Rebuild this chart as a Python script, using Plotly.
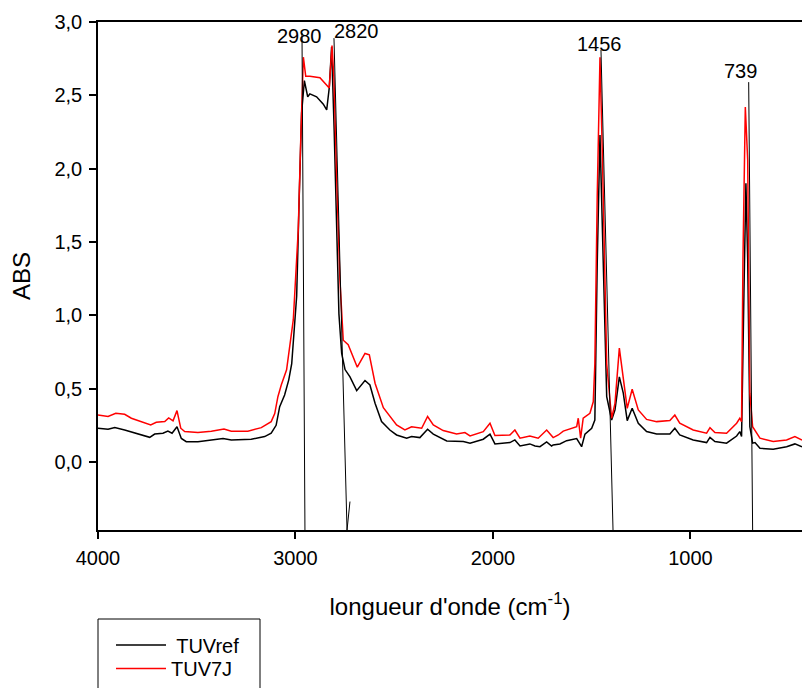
import plotly.graph_objects as go

# Wavenumbers (cm-1) and absorbance
ref_wn = [4000, 3949, 3915, 3865, 3738, 3713, 3671, 3646, 3625, 3600, 3578, 3553, 3494, 3367, 3325,
          3224, 3156, 3123, 3098, 3080, 3055, 3034, 3019, 2994, 2981, 2969, 2955, 2938, 2927, 2893,
          2859, 2842, 2829, 2817, 2804, 2791, 2780, 2766, 2749, 2724, 2690, 2648, 2623, 2597, 2564,
          2522, 2488, 2437, 2412, 2370, 2331, 2302, 2234, 2150, 2116, 2049, 2015, 1990, 1914, 1889,
          1863, 1813, 1787, 1762, 1728, 1703, 1695, 1661, 1627, 1576, 1551, 1534, 1500, 1484, 1472,
          1458, 1445, 1424, 1399, 1382, 1360, 1340, 1320, 1295, 1264, 1222, 1171, 1104, 1079, 1054,
          986, 918, 901, 876, 817, 766, 750, 741, 729, 719, 710, 699, 685, 673, 648, 581, 513, 471, 435]
ref_abs = [0.23, 0.223, 0.234, 0.218, 0.168, 0.19, 0.196, 0.21, 0.196, 0.24, 0.16, 0.138, 0.138, 0.16, 0.15,
           0.155, 0.173, 0.196, 0.25, 0.377, 0.457, 0.56, 0.67, 1.13, 1.81, 2.38, 2.60, 2.49, 2.51, 2.49,
           2.44, 2.40, 2.55, 2.83, 2.26, 1.58, 1.01, 0.74, 0.63, 0.58, 0.486, 0.555, 0.525, 0.40, 0.275,
           0.218, 0.184, 0.162, 0.173, 0.166, 0.223, 0.19, 0.143, 0.139, 0.128, 0.155, 0.19, 0.123, 0.132, 0.15,
           0.109, 0.123, 0.109, 0.104, 0.136, 0.109, 0.116, 0.123, 0.145, 0.16, 0.104, 0.19, 0.23, 0.286, 1.355,
           2.23, 1.58, 0.445, 0.286, 0.355, 0.58, 0.469, 0.282, 0.366, 0.264, 0.207, 0.19, 0.19, 0.23, 0.184,
           0.15, 0.132, 0.168, 0.139, 0.128, 0.177, 0.207, 0.173, 1.15, 1.90, 1.38, 0.24, 0.128, 0.132, 0.093, 0.087, 0.104, 0.123, 0.104]

j7_wn = [4000, 3949, 3910, 3865, 3831, 3781, 3733, 3705, 3662, 3642, 3620, 3600, 3581, 3561, 3494,
         3426, 3362, 3325, 3241, 3173, 3123, 3105, 3089, 3072, 3045, 3011, 2986, 2972, 2960, 2948,
         2927, 2876, 2851, 2829, 2815, 2805, 2791, 2775, 2758, 2733, 2687, 2648, 2626, 2597, 2555,
         2522, 2488, 2446, 2412, 2361, 2331, 2302, 2252, 2184, 2142, 2116, 2049, 2015, 1990, 1914,
         1889, 1863, 1813, 1771, 1728, 1695, 1669, 1644, 1610, 1576, 1568, 1556, 1543, 1509, 1492,
         1484, 1472, 1458, 1445, 1424, 1399, 1382, 1360, 1340, 1320, 1295, 1264, 1222, 1171, 1104,
         1079, 1054, 1019, 986, 918, 901, 876, 817, 766, 750, 741, 734, 722, 710, 699, 685, 648,
         581, 513, 471, 435]
j7_abs = [0.32, 0.31, 0.332, 0.325, 0.298, 0.275, 0.252, 0.27, 0.275, 0.30, 0.28, 0.35, 0.23, 0.207, 0.20,
          0.21, 0.225, 0.21, 0.21, 0.234, 0.275, 0.33, 0.445, 0.525, 0.628, 0.97, 1.58, 2.26, 2.76, 2.63,
          2.63, 2.62, 2.58, 2.55, 2.84, 2.61, 1.92, 1.24, 0.83, 0.80, 0.646, 0.74, 0.73, 0.537, 0.37,
          0.31, 0.252, 0.218, 0.24, 0.23, 0.31, 0.252, 0.214, 0.19, 0.20, 0.177, 0.207, 0.264, 0.18, 0.184,
          0.218, 0.162, 0.177, 0.162, 0.218, 0.166, 0.184, 0.21, 0.223, 0.24, 0.298, 0.162, 0.298, 0.332, 0.41,
          0.67, 1.81, 2.76, 2.04, 0.67, 0.298, 0.40, 0.776, 0.58, 0.366, 0.496, 0.355, 0.29, 0.275, 0.282,
          0.32, 0.264, 0.24, 0.218, 0.196, 0.234, 0.20, 0.196, 0.264, 0.298, 0.275, 1.38, 2.42, 2.06, 0.469, 0.24, 0.162,
          0.139, 0.15, 0.173, 0.15]

# Peak labels and their leader lines
peak_labels = ["2980", "2820", "1456", "739"]
label_wn = [2982, 2691, 1463, 744]
label_abs = [2.905, 2.94, 2.848, 2.669]
leader_wn = [[2967, 2952], [2805, 2739, 2724], [1453, 1392], [705, 685]]
leader_abs = [[2.925, -0.464], [2.89, -0.464, -0.27], [2.81, -0.464], [2.59, -0.464]]

y_ticks = [0.0, 0.5, 1.0, 1.5, 2.0, 2.5, 3.0]
y_ticktext = ["0,0", "0,5", "1,0", "1,5", "2,0", "2,5", "3,0"]
x_ticks = [4000, 3000, 2000, 1000]
x_ticktext = ["4000", "3000", "2000", "1000"]

FONT = "Liberation Sans, Arial, sans-serif"
W, H = 802, 688
L, T = 98, 22
PH = 508
B = H - T - PH
PW = W - L

fig = go.Figure()
fig.add_trace(go.Scatter(x=ref_wn, y=ref_abs, mode="lines", name=" TUVref", legend="legend",
                         line=dict(color="black", width=1.5)))
fig.add_trace(go.Scatter(x=j7_wn, y=j7_abs, mode="lines", name="TUV7J", legend="legend2",
                         line=dict(color="#ff0000", width=1.5)))

for xs, ys in zip(leader_wn, leader_abs):
    fig.add_trace(go.Scatter(x=xs, y=ys, mode="lines", showlegend=False, hoverinfo="skip",
                             line=dict(color="black", width=1)))

for t, lx, ly in zip(peak_labels, label_wn, label_abs):
    fig.add_annotation(x=lx, y=ly, text=t, showarrow=False, xanchor="center", yanchor="middle",
                       font=dict(size=20, color="black", family=FONT))

# legend frame
fig.add_shape(type="rect", xref="paper", yref="paper", x0=0, x1=162 / PW,
              y0=-89 / PH, y1=-200 / PH,
              line=dict(color="black", width=1), fillcolor="rgba(0,0,0,0)")

leg_common = dict(x=13 / PW, xanchor="left", yanchor="middle", bgcolor="rgba(0,0,0,0)",
                  borderwidth=0, font=dict(size=20, family=FONT), itemwidth=50)
fig.update_layout(
    width=W, height=H,
    margin=dict(l=L, r=0, t=T, b=B, pad=0),
    paper_bgcolor="white", plot_bgcolor="white",
    font=dict(family=FONT, size=20, color="black"),
    showlegend=True,
    legend=dict(y=-115 / PH, **leg_common),
    legend2=dict(y=-139 / PH, **leg_common),
)
fig.update_xaxes(range=[4000, 435], showgrid=False, zeroline=False,
                 showline=True, linecolor="black", linewidth=1.5, mirror=True,
                 ticks="outside", ticklen=7, tickwidth=1.5, tickcolor="black",
                 tickvals=x_ticks, ticktext=x_ticktext, tickfont=dict(size=20),
                 ticklabelstandoff=2,
                 title=dict(text="longueur d'onde (cm<sup>-1</sup>)", font=dict(size=24), standoff=30))
fig.update_yaxes(range=[-0.464, 3.0], showgrid=False, zeroline=False,
                 showline=True, linecolor="black", linewidth=1.5, mirror=False,
                 ticks="outside", ticklen=7, tickwidth=1.5, tickcolor="black",
                 tickvals=y_ticks, ticktext=y_ticktext, tickfont=dict(size=20),
                 ticklabelstandoff=3,
                 title=dict(text="ABS", font=dict(size=24), standoff=17))

post = ("document.documentElement.style.margin='0';document.body.style.margin='0';"
        "document.documentElement.style.overflow='hidden';document.body.style.overflow='hidden';"
        "var gd=document.getElementById('{plot_id}');gd.style.position='fixed';"
        "gd.style.left='0px';gd.style.top='0px';")
fig.write_html("out.html", config={"displayModeBar": False}, post_script=post)
